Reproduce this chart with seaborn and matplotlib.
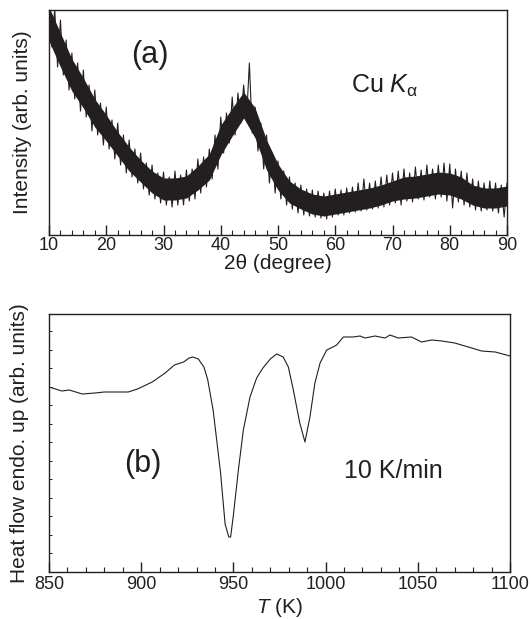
import numpy as np
import matplotlib
matplotlib.use('Agg')
import matplotlib.pyplot as plt
import seaborn as sns
from matplotlib.ticker import MultipleLocator, FixedLocator

# (a) XRD, Cu K-alpha -- intensity in arb. units
core_theta = list(range(10, 91, 2))
core_top = [228, 202, 176, 157, 136, 120, 103, 88, 75, 64, 57, 57, 59, 69, 81,
            110, 127, 143, 127, 95, 71, 54, 46, 41, 39, 41, 43, 45, 47, 50, 54,
            58, 59, 61, 63, 62, 58, 50, 47, 47, 49]
core_bottom = [194, 168, 144, 127, 108, 94, 79, 64, 53, 42, 35, 35, 37, 45, 55,
               80, 99, 117, 97, 65, 45, 32, 26, 21, 19, 21, 23, 25, 27, 30, 34,
               36, 37, 39, 41, 40, 36, 30, 27, 27, 29]

# tips of the noise spikes
spike_theta_top = list(range(10, 91))
spike_top = [226, 226, 215, 195, 182, 172, 165, 150, 145, 132,
             128, 115, 112, 100, 95, 86, 82, 72, 70, 62,
             63, 58, 64, 60, 65, 66, 76, 78, 86, 100,
             118, 122, 138, 142, 150, 172, 128, 112, 100, 82,
             74, 64, 58, 52, 50, 46, 45, 44, 42, 44,
             46, 45, 47, 48, 52, 56, 52, 54, 58, 60,
             62, 64, 66, 62, 68, 65, 70, 66, 70, 72,
             71, 66, 64, 62, 56, 54, 52, 54, 52, 50,
             52]
spike_theta_bottom = [d + 0.5 for d in range(10, 90)]
spike_bottom = [188, 168, 160, 145, 136, 124, 118, 104, 100, 90,
                86, 76, 70, 62, 58, 52, 46, 40, 36, 32,
                30, 28, 30, 30, 34, 36, 42, 48, 56, 66,
                82, 92, 100, 112, 115, 102, 84, 66, 52, 42,
                36, 30, 26, 22, 20, 19, 18, 17, 16, 18,
                20, 20, 22, 23, 24, 25, 26, 27, 28, 30,
                32, 30, 34, 33, 36, 35, 38, 36, 38, 34,
                27, 33, 30, 28, 25, 24, 25, 24, 22, 18]

# (b) DSC trace at 10 K/min
dsc_T = [850, 857, 861, 868, 875, 880, 893, 898, 906, 913, 918, 923, 926, 928,
         931, 934, 936, 939, 943, 945.5, 947.5, 948.5, 950, 952.7, 955.4, 959,
         962.6, 966, 970, 973.4, 977, 979.8, 982.5, 986, 988.8, 991.5, 994.2,
         997, 1000.6, 1004, 1006, 1009.6, 1015, 1018.7, 1021.4, 1026.8, 1032.2,
         1034.9, 1039.4, 1046.6, 1052, 1057.5, 1063, 1070, 1077.4, 1084.6, 1092,
         1100]
dsc_heat = [185, 181, 182, 178, 179, 180, 180, 183, 190, 199, 207, 210, 214, 215,
            213, 205, 193, 162, 100, 48, 35, 35, 57, 102, 142, 175, 194, 204, 213,
            218, 215, 205, 182, 149, 130, 155, 189, 209, 222, 225, 227, 235, 235,
            236, 234, 236, 234, 237, 234, 235, 230, 232, 231, 229, 225, 221, 220,
            216]

ink = '#231f20'

sns.set_theme(style='ticks')
plt.rcParams['font.family'] = ['Liberation Sans', 'DejaVu Sans']
plt.rcParams['mathtext.fontset'] = 'custom'
plt.rcParams['mathtext.rm'] = 'Liberation Sans'
plt.rcParams['mathtext.it'] = 'Liberation Sans:italic'
plt.rcParams['text.color'] = ink
plt.rcParams['axes.labelcolor'] = ink

W, H = 531, 619
fig = plt.figure(figsize=(W / 100, H / 100), dpi=100)
ax1 = fig.add_axes([49 / W, (H - 235) / H, 458 / W, 225 / H])
ax2 = fig.add_axes([49 / W, (H - 572) / H, 461 / W, 258 / H])

# --- panel (a)
ax1.fill_between(core_theta, core_bottom, core_top, color=ink, lw=0)
zz_x = np.empty(len(spike_top) + len(spike_bottom))
zz_y = np.empty_like(zz_x)
zz_x[0::2], zz_y[0::2] = spike_theta_top, spike_top
zz_x[1::2], zz_y[1::2] = spike_theta_bottom, spike_bottom
sns.lineplot(x=zz_x, y=zz_y, ax=ax1, color=ink, lw=0.8, sort=False)

ax1.set_xlim(10, 90)
ax1.set_ylim(0, 225)
ax1.xaxis.set_major_locator(MultipleLocator(10))
ax1.xaxis.set_minor_locator(MultipleLocator(2))
ax1.set_yticks([])
ax1.set_xlabel('2θ (degree)', fontsize=15, labelpad=0)
ax1.set_ylabel('Intensity (arb. units)', fontsize=15)
ax1.yaxis.set_label_coords(-0.037, 0.5)
ax1.text(0.22, 0.80, '(a)', transform=ax1.transAxes, fontsize=22,
         ha='center', va='center')
ax1.text(0.66, 0.63, 'Cu $K_{\\mathrm{α}}$', transform=ax1.transAxes, fontsize=18,
         ha='left', va='baseline')

# --- panel (b)
sns.lineplot(x=dsc_T, y=dsc_heat, ax=ax2, color=ink, lw=0.8)
ax2.set_xlim(850, 1100)
ax2.set_ylim(0, 258)
ax2.xaxis.set_major_locator(MultipleLocator(50))
ax2.xaxis.set_minor_locator(MultipleLocator(10))
ax2.yaxis.set_major_locator(FixedLocator(np.linspace(19, 241, 13)))
ax2.set_yticklabels([])
ax2.set_xlabel('$T$ (K)', fontsize=15, labelpad=2)
ax2.set_ylabel('Heat flow endo. up (arb. units)', fontsize=15)
ax2.yaxis.set_label_coords(-0.043, 0.5)
ax2.text(0.204, 0.42, '(b)', transform=ax2.transAxes, fontsize=22,
         ha='center', va='center')
ax2.text(0.748, 0.39, '10 K/min', transform=ax2.transAxes, fontsize=18,
         ha='center', va='center')

for ax in (ax1, ax2):
    for sp in ax.spines.values():
        sp.set_visible(True)
        sp.set_color(ink)
        sp.set_linewidth(1.0)
    ax.tick_params(axis='x', which='major', direction='in', length=7, width=1,
                   colors=ink, labelsize=13, pad=3, top=False)
    ax.tick_params(axis='x', which='minor', direction='in', length=3.5, width=0.8,
                   colors=ink, top=False, bottom=True)
ax1.tick_params(axis='x', which='major', pad=1.5)
ax2.tick_params(axis='y', which='major', direction='in', length=2.5, width=0.7,
                colors=ink, left=True, right=False)

fig.savefig('out.png', dpi=100)
